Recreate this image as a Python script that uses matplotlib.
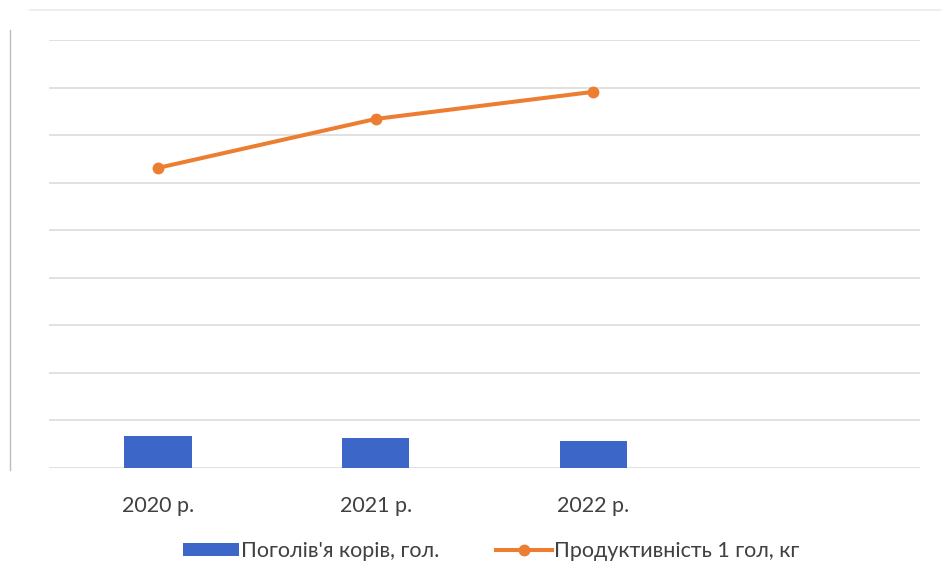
import matplotlib.pyplot as plt

# data
years = ['2020 р.', '2021 р.', '2022 р.', '']
cows = [675, 630, 570, None]          # Поголів'я корів, гол.
milk = [6310, 7340, 7910, None]       # Продуктивність 1 гол, кг

plt.rcParams['font.family'] = ['Lato', 'DejaVu Sans']

fig = plt.figure(figsize=(9.41, 5.87), dpi=100)
ax = fig.add_axes([49 / 941, 1 - 468 / 587, 871 / 941, 428 / 587])

x = list(range(len(years)))
ax.bar(x[:3], cows[:3], width=0.31, color='#3C67C9', zorder=3,
       label="Поголів'я корів, гол.")
ax.plot(x[:3], milk[:3], color='#ED7D31', lw=2.9, marker='o', ms=7.5,
        zorder=4, label='Продуктивність 1 гол, кг')

ax.set_xlim(-0.5, 3.5)
ax.set_ylim(0, 9000)
ax.set_yticks(range(0, 9001, 1000))
ax.set_yticklabels([])
ax.grid(axis='y', color='#dcdcdc', lw=1.2, zorder=0)
ax.set_xticks(x)
ax.set_xticklabels(years, fontsize=15.5, color='#404040')
ax.tick_params(axis='both', length=0, pad=20)
for s in ax.spines.values():
    s.set_visible(False)

# faint page edge on the left and chart border on top
fig.add_artist(plt.Line2D([10 / 941, 10 / 941], [1 - 470 / 587, 1 - 30 / 587],
                          color='#bdbdbd', lw=1))
fig.add_artist(plt.Line2D([30 / 941, 1], [1 - 10 / 587, 1 - 10 / 587],
                          color='#eeeeee', lw=1.5))

h, l = ax.get_legend_handles_labels()
ax.legend(h[::-1], l[::-1], loc='center', bbox_to_anchor=(491 / 941, 1 - 551 / 587),
          bbox_transform=fig.transFigure, ncol=2, frameon=False,
          fontsize=15.5, handlelength=2.6, handleheight=0.6, columnspacing=2.6,
          handletextpad=0.1, labelcolor='#404040')

fig.savefig('out.png', dpi=100)
